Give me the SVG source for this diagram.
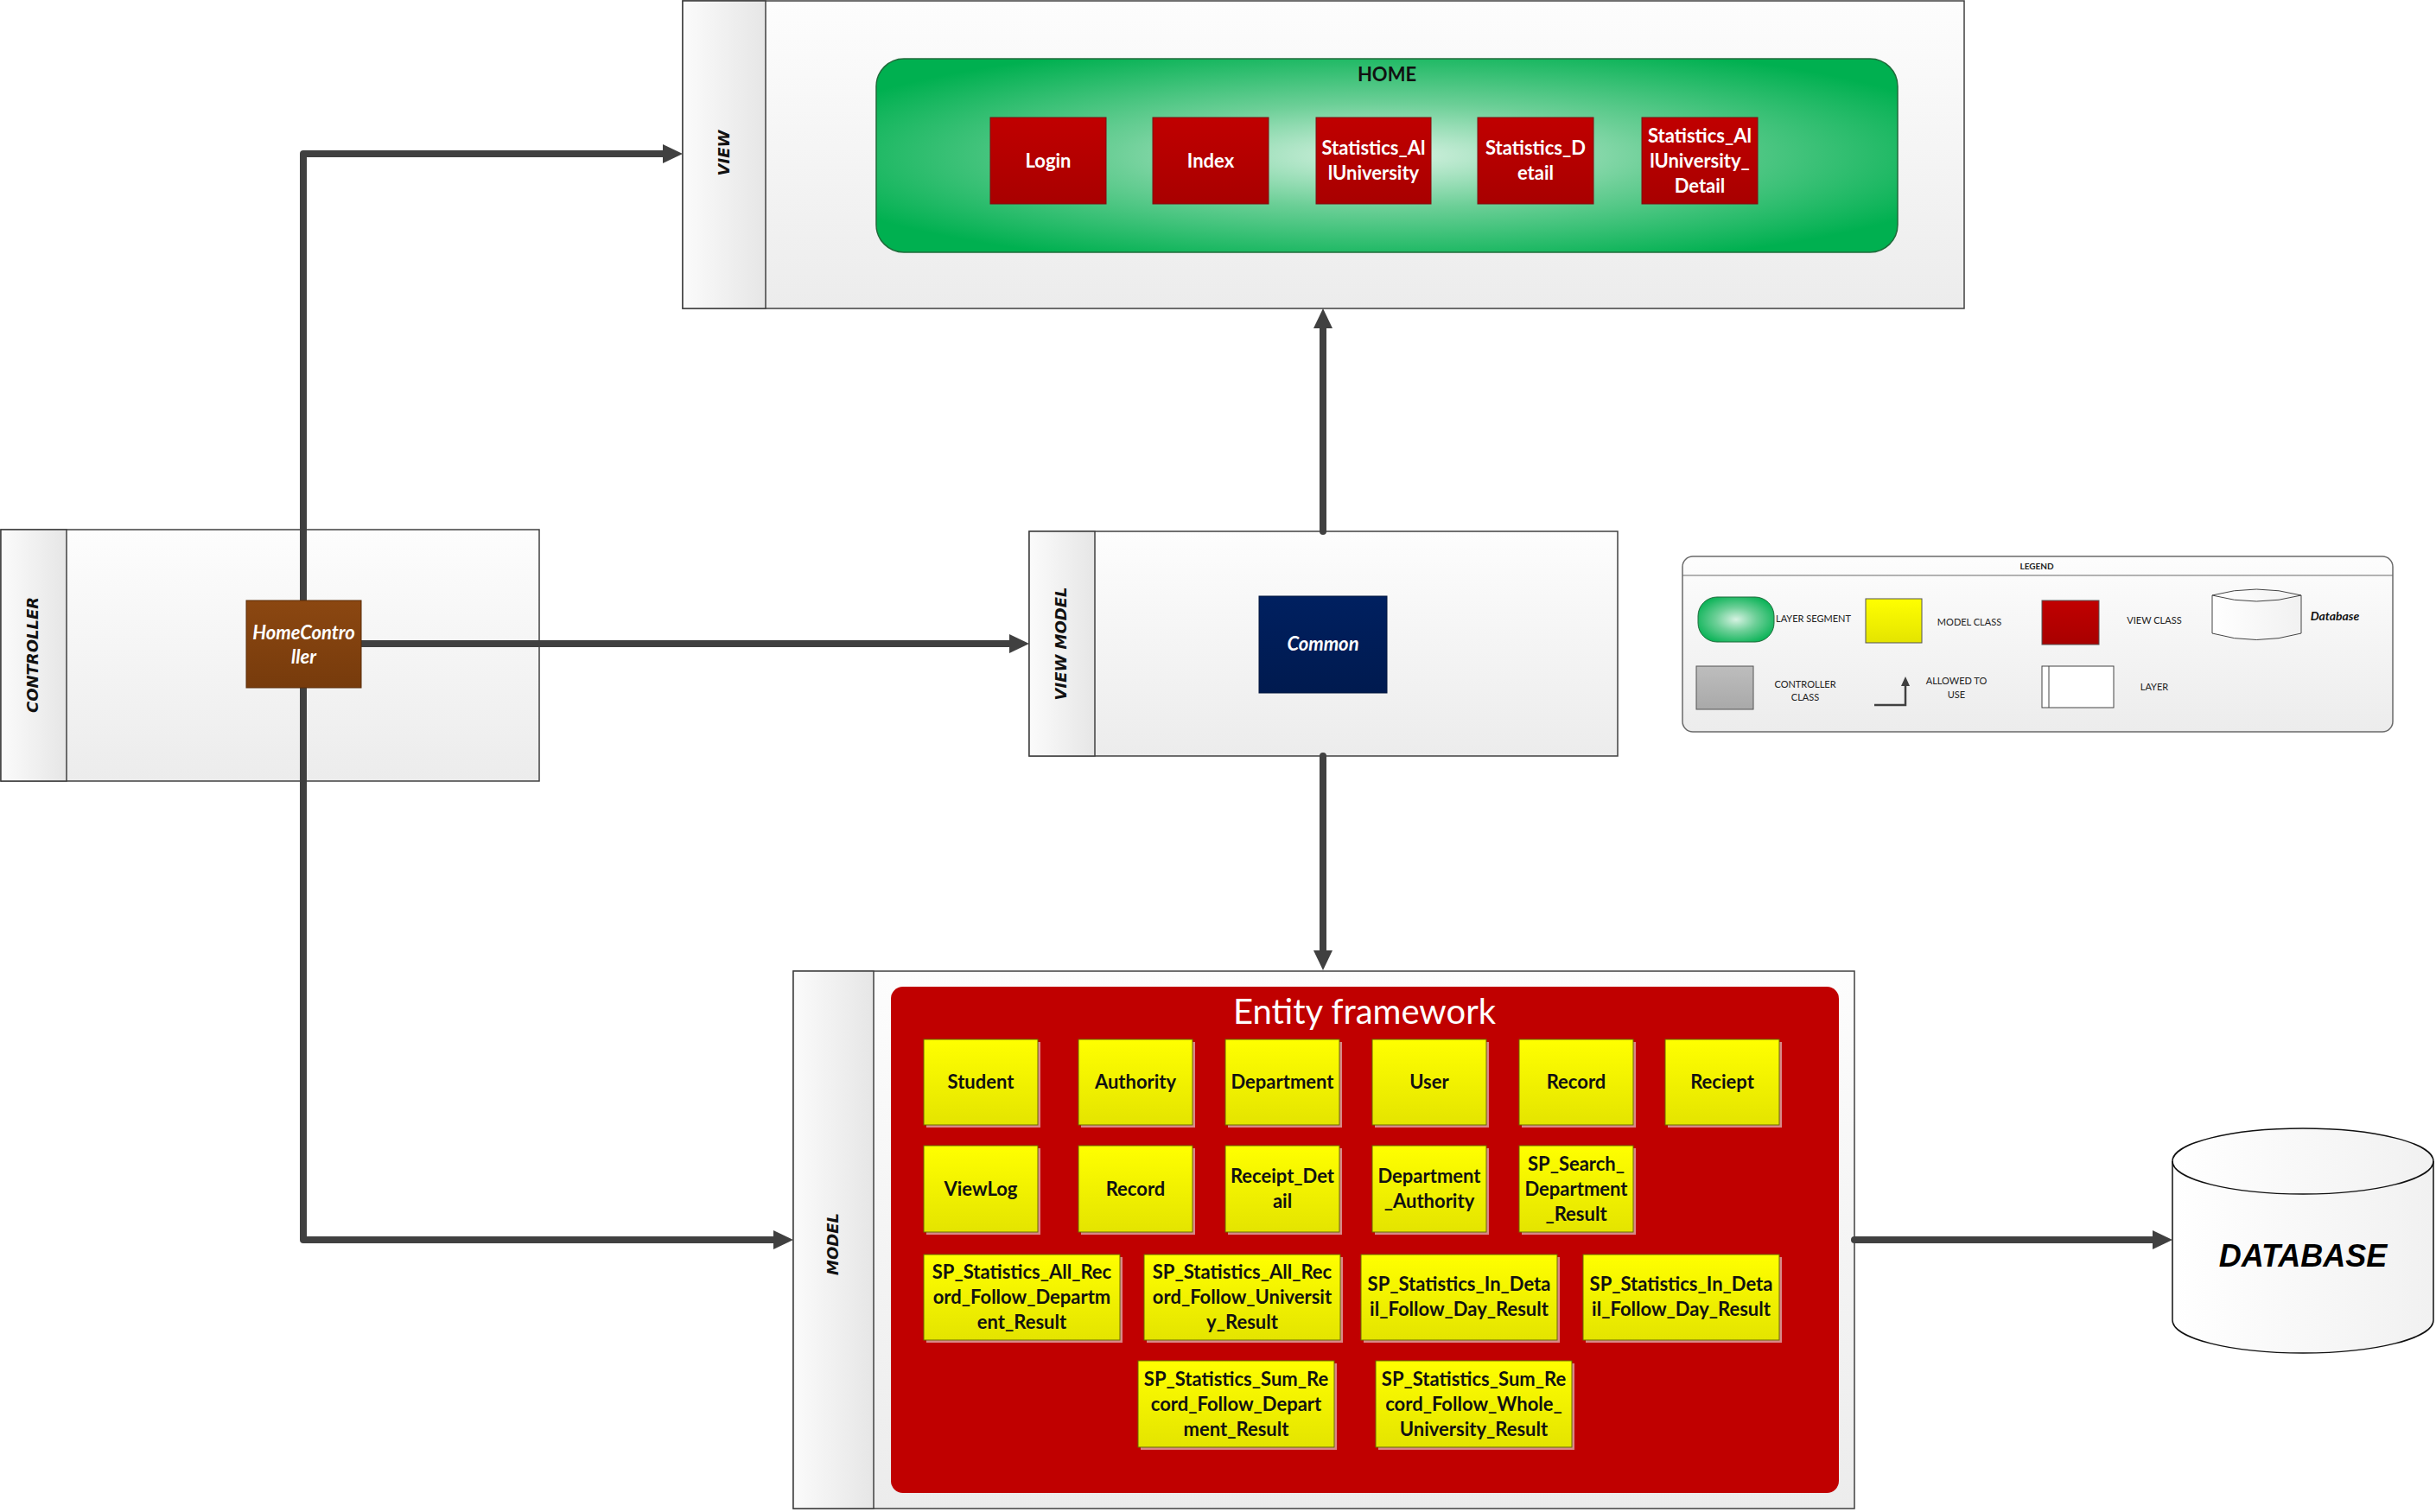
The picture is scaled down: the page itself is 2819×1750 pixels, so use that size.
<svg xmlns="http://www.w3.org/2000/svg" width="2819" height="1750" viewBox="0 0 2819 1750">
  <style>
    .layer { stroke: #404040; stroke-width: 1.5; fill: url(#layerFill); }
    .strip { stroke: #404040; stroke-width: 1.5; fill: url(#stripFill); }
    .layerTitle { font-family: "DejaVu Sans", sans-serif; font-weight: bold; font-style: italic; font-size: 18px; fill: #111; text-anchor: middle; }
    .vbox { fill: url(#redFill); stroke: #7a1010; stroke-width: 1; }
    .vtxt { font-family: Lato, "Liberation Sans", sans-serif; font-weight: bold; font-size: 22px; fill: #fff; text-anchor: middle; }
    .mbox { fill: url(#yellowFill); stroke: #6b6b00; stroke-width: 1; }
    .mshadow { fill: #d98888; }
    .mtxt { font-family: Lato, "Liberation Sans", sans-serif; font-weight: bold; font-size: 22px; fill: #111; text-anchor: middle; }
    .conn { fill: none; stroke: #404040; stroke-width: 8; stroke-linecap: round; stroke-linejoin: round; }
    .lg { font-family: Lato, "Liberation Sans", sans-serif; font-size: 11px; fill: #222; text-anchor: middle; }
    .lgStart { font-family: Lato, "Liberation Sans", sans-serif; font-size: 11px; fill: #222; text-anchor: start; }
  </style>
  <defs>
    <linearGradient id="layerFill" x1="0" y1="0" x2="0" y2="1">
      <stop offset="0" stop-color="#fdfdfd"/>
      <stop offset="1" stop-color="#ececec"/>
    </linearGradient>
    <linearGradient id="stripFill" x1="0" y1="0" x2="1" y2="0">
      <stop offset="0" stop-color="#fbfbfb"/>
      <stop offset="1" stop-color="#e6e6e6"/>
    </linearGradient>
    <radialGradient id="greenFill" cx="0.5" cy="0.5" r="0.6">
      <stop offset="0" stop-color="#d6f2e2"/>
      <stop offset="0.45" stop-color="#6ccf97"/>
      <stop offset="1" stop-color="#00b050"/>
    </radialGradient>
    <linearGradient id="redFill" x1="0" y1="0" x2="0" y2="1">
      <stop offset="0" stop-color="#c00000"/>
      <stop offset="1" stop-color="#a80000"/>
    </linearGradient>
    <linearGradient id="yellowFill" x1="0" y1="0" x2="0" y2="1">
      <stop offset="0" stop-color="#ffff00"/>
      <stop offset="1" stop-color="#e4e400"/>
    </linearGradient>
    <linearGradient id="brownFill" x1="0" y1="0" x2="0" y2="1">
      <stop offset="0" stop-color="#8b4711"/>
      <stop offset="1" stop-color="#773b0c"/>
    </linearGradient>
    <linearGradient id="navyFill" x1="0" y1="0" x2="0" y2="1">
      <stop offset="0" stop-color="#002060"/>
      <stop offset="1" stop-color="#001a4f"/>
    </linearGradient>
    <linearGradient id="grayFill" x1="0" y1="0" x2="0" y2="1">
      <stop offset="0" stop-color="#bdbdbd"/>
      <stop offset="1" stop-color="#a9a9a9"/>
    </linearGradient>
    <linearGradient id="cylFill" x1="0" y1="0" x2="1" y2="0">
      <stop offset="0" stop-color="#ffffff"/>
      <stop offset="1" stop-color="#f1f1f1"/>
    </linearGradient>
    <marker id="head" markerUnits="userSpaceOnUse" viewBox="0 0 24 24" markerWidth="24" markerHeight="24" refX="1" refY="12" orient="auto">
      <path d="M0,1 L23,12 L0,23 Z" fill="#404040"/>
    </marker>
    <marker id="headSmall" markerUnits="userSpaceOnUse" viewBox="0 0 12 12" markerWidth="12" markerHeight="12" refX="1" refY="6" orient="auto">
      <path d="M0,1 L11,6 L0,11 Z" fill="#404040"/>
    </marker>
  </defs>

  <!-- VIEW layer -->
  <g id="layer-view">
    <rect class="layer" x="790" y="1" width="1483" height="356"/>
    <rect class="strip" x="790" y="1" width="96" height="356"/>
    <text class="layerTitle" transform="translate(844,177) rotate(-90)">VIEW</text>
    <g id="home-segment">
      <rect x="1014" y="68" width="1182" height="224" rx="32" ry="32" fill="url(#greenFill)" stroke="#1f6b3a" stroke-width="1.5"/>
      <text x="1605" y="94" font-family="Lato, 'Liberation Sans', sans-serif" font-weight="bold" font-size="22" fill="#111" text-anchor="middle">HOME</text>
    </g>
    <g id="view-login">
      <rect class="vbox" x="1146" y="136" width="134" height="100"/>
      <text class="vtxt" x="1213" y="194">Login</text>
    </g>
    <g id="view-index">
      <rect class="vbox" x="1334" y="136" width="134" height="100"/>
      <text class="vtxt" x="1401" y="194">Index</text>
    </g>
    <g id="view-statistics-alluniversity">
      <rect class="vbox" x="1523" y="136" width="133" height="100"/>
      <text class="vtxt" x="1589.5" y="179">Statistics_Al</text>
      <text class="vtxt" x="1589.5" y="208">lUniversity</text>
    </g>
    <g id="view-statistics-detail">
      <rect class="vbox" x="1710" y="136" width="134" height="100"/>
      <text class="vtxt" x="1777" y="179">Statistics_D</text>
      <text class="vtxt" x="1777" y="208">etail</text>
    </g>
    <g id="view-statistics-alluniversity-detail">
      <rect class="vbox" x="1900" y="136" width="134" height="100"/>
      <text class="vtxt" x="1967" y="165">Statistics_Al</text>
      <text class="vtxt" x="1967" y="194">lUniversity_</text>
      <text class="vtxt" x="1967" y="223">Detail</text>
    </g>
  </g>

  <!-- CONTROLLER layer -->
  <g id="layer-controller">
    <rect class="layer" x="1" y="613" width="623" height="291"/>
    <rect class="strip" x="1" y="613" width="76" height="291"/>
    <text class="layerTitle" transform="translate(44,758) rotate(-90)">CONTROLLER</text>
  </g>

  <!-- VIEW MODEL layer -->
  <g id="layer-viewmodel">
    <rect class="layer" x="1191" y="615" width="681" height="260"/>
    <rect class="strip" x="1191" y="615" width="76" height="260"/>
    <text class="layerTitle" transform="translate(1234,745) rotate(-90)">VIEW MODEL</text>
  </g>

  <!-- MODEL layer -->
  <g id="layer-model">
    <rect class="layer" x="918" y="1124" width="1228" height="622"/>
    <rect class="strip" x="918" y="1124" width="93" height="622"/>
    <text class="layerTitle" transform="translate(970,1440) rotate(-90)">MODEL</text>
    <g id="entity-framework">
      <rect x="1031" y="1142" width="1097" height="586" rx="14" ry="14" fill="#c00000"/>
      <text x="1579" y="1185" font-family="Lato, 'Liberation Sans', sans-serif" font-size="40" fill="#fff" text-anchor="middle">Entity framework</text>
    </g>
  </g>

  <!-- Connectors -->
  <g id="connectors">
    <path class="conn" d="M351,695 V178 H768" marker-end="url(#head)"/>
    <path class="conn" d="M418,745 H1169" marker-end="url(#head)"/>
    <path class="conn" d="M351,796 V1435 H896" marker-end="url(#head)"/>
    <path class="conn" d="M1531,615 V379" marker-end="url(#head)"/>
    <path class="conn" d="M1531,875 V1101" marker-end="url(#head)"/>
    <path class="conn" d="M2146,1435 H2492" marker-end="url(#head)"/>
  </g>

  <!-- Controller class -->
  <g id="home-controller">
    <rect x="285" y="695" width="133" height="101" fill="url(#brownFill)" stroke="#5a2d08" stroke-width="1"/>
    <text x="351.5" y="740" font-family="Lato, 'Liberation Sans', sans-serif" font-weight="bold" font-style="italic" font-size="22" fill="#fff" text-anchor="middle">HomeContro</text>
    <text x="351.5" y="768" font-family="Lato, 'Liberation Sans', sans-serif" font-weight="bold" font-style="italic" font-size="22" fill="#fff" text-anchor="middle">ller</text>
  </g>

  <!-- View model class -->
  <g id="common">
    <rect x="1457" y="690" width="148" height="112" fill="url(#navyFill)" stroke="#00153d" stroke-width="1"/>
    <text x="1531" y="753" font-family="Lato, 'Liberation Sans', sans-serif" font-weight="bold" font-style="italic" font-size="22" fill="#fff" text-anchor="middle">Common</text>
  </g>

  <!-- Model classes: row 1 -->
  <g id="m-student"><rect class="mshadow" x="1072" y="1206" width="132" height="99"/><rect class="mbox" x="1069" y="1203" width="132" height="99"/><text class="mtxt" x="1135" y="1260">Student</text></g>
  <g id="m-authority"><rect class="mshadow" x="1251" y="1206" width="132" height="99"/><rect class="mbox" x="1248" y="1203" width="132" height="99"/><text class="mtxt" x="1314" y="1260">Authority</text></g>
  <g id="m-department"><rect class="mshadow" x="1421" y="1206" width="132" height="99"/><rect class="mbox" x="1418" y="1203" width="132" height="99"/><text class="mtxt" x="1484" y="1260">Department</text></g>
  <g id="m-user"><rect class="mshadow" x="1591" y="1206" width="132" height="99"/><rect class="mbox" x="1588" y="1203" width="132" height="99"/><text class="mtxt" x="1654" y="1260">User</text></g>
  <g id="m-record"><rect class="mshadow" x="1761" y="1206" width="132" height="99"/><rect class="mbox" x="1758" y="1203" width="132" height="99"/><text class="mtxt" x="1824" y="1260">Record</text></g>
  <g id="m-reciept"><rect class="mshadow" x="1930" y="1206" width="132" height="99"/><rect class="mbox" x="1927" y="1203" width="132" height="99"/><text class="mtxt" x="1993" y="1260">Reciept</text></g>

  <!-- Model classes: row 2 -->
  <g id="m-viewlog"><rect class="mshadow" x="1072" y="1329" width="132" height="100"/><rect class="mbox" x="1069" y="1326" width="132" height="100"/><text class="mtxt" x="1135" y="1384">ViewLog</text></g>
  <g id="m-record-2"><rect class="mshadow" x="1251" y="1329" width="132" height="100"/><rect class="mbox" x="1248" y="1326" width="132" height="100"/><text class="mtxt" x="1314" y="1384">Record</text></g>
  <g id="m-receipt-detail"><rect class="mshadow" x="1421" y="1329" width="132" height="100"/><rect class="mbox" x="1418" y="1326" width="132" height="100"/><text class="mtxt" x="1484" y="1369">Receipt_Det</text><text class="mtxt" x="1484" y="1398">ail</text></g>
  <g id="m-department-authority"><rect class="mshadow" x="1591" y="1329" width="132" height="100"/><rect class="mbox" x="1588" y="1326" width="132" height="100"/><text class="mtxt" x="1654" y="1369">Department</text><text class="mtxt" x="1654" y="1398">_Authority</text></g>
  <g id="m-sp-search-department"><rect class="mshadow" x="1761" y="1329" width="132" height="100"/><rect class="mbox" x="1758" y="1326" width="132" height="100"/><text class="mtxt" x="1824" y="1355">SP_Search_</text><text class="mtxt" x="1824" y="1384">Department</text><text class="mtxt" x="1824" y="1413">_Result</text></g>

  <!-- Model classes: row 3 -->
  <g id="m-sp-all-record-department"><rect class="mshadow" x="1072" y="1455" width="227" height="99"/><rect class="mbox" x="1069" y="1452" width="227" height="99"/><text class="mtxt" x="1182.5" y="1480">SP_Statistics_All_Rec</text><text class="mtxt" x="1182.5" y="1509">ord_Follow_Departm</text><text class="mtxt" x="1182.5" y="1538">ent_Result</text></g>
  <g id="m-sp-all-record-university"><rect class="mshadow" x="1327" y="1455" width="227" height="99"/><rect class="mbox" x="1324" y="1452" width="227" height="99"/><text class="mtxt" x="1437.5" y="1480">SP_Statistics_All_Rec</text><text class="mtxt" x="1437.5" y="1509">ord_Follow_Universit</text><text class="mtxt" x="1437.5" y="1538">y_Result</text></g>
  <g id="m-sp-in-detail-day-1"><rect class="mshadow" x="1578" y="1455" width="227" height="99"/><rect class="mbox" x="1575" y="1452" width="227" height="99"/><text class="mtxt" x="1688.5" y="1494">SP_Statistics_In_Deta</text><text class="mtxt" x="1688.5" y="1523">il_Follow_Day_Result</text></g>
  <g id="m-sp-in-detail-day-2"><rect class="mshadow" x="1835" y="1455" width="227" height="99"/><rect class="mbox" x="1832" y="1452" width="227" height="99"/><text class="mtxt" x="1945.5" y="1494">SP_Statistics_In_Deta</text><text class="mtxt" x="1945.5" y="1523">il_Follow_Day_Result</text></g>

  <!-- Model classes: row 4 -->
  <g id="m-sp-sum-record-department"><rect class="mshadow" x="1320" y="1578" width="227" height="100"/><rect class="mbox" x="1317" y="1575" width="227" height="100"/><text class="mtxt" x="1430.5" y="1604">SP_Statistics_Sum_Re</text><text class="mtxt" x="1430.5" y="1633">cord_Follow_Depart</text><text class="mtxt" x="1430.5" y="1662">ment_Result</text></g>
  <g id="m-sp-sum-record-university"><rect class="mshadow" x="1595" y="1578" width="227" height="100"/><rect class="mbox" x="1592" y="1575" width="227" height="100"/><text class="mtxt" x="1705.5" y="1604">SP_Statistics_Sum_Re</text><text class="mtxt" x="1705.5" y="1633">cord_Follow_Whole_</text><text class="mtxt" x="1705.5" y="1662">University_Result</text></g>

  <!-- Database -->
  <g id="database">
    <path d="M2514,1344 A151,38 0 0 1 2816,1344 V1528 A151,38 0 0 1 2514,1528 Z" fill="url(#cylFill)" stroke="#111" stroke-width="1.5"/>
    <path d="M2514,1344 A151,38 0 0 0 2816,1344" fill="none" stroke="#111" stroke-width="1.5"/>
    <text x="2665" y="1466" font-family="'Liberation Sans', sans-serif" font-weight="bold" font-style="italic" font-size="36" fill="#000" text-anchor="middle">DATABASE</text>
  </g>

  <!-- Legend -->
  <g id="legend">
    <rect x="1947" y="644" width="822" height="203" rx="12" ry="12" fill="url(#layerFill)" stroke="#6a6a6a" stroke-width="1.5"/>
    <line x1="1947" y1="666" x2="2769" y2="666" stroke="#6a6a6a" stroke-width="1.2"/>
    <text x="2357" y="659" font-family="Lato, 'Liberation Sans', sans-serif" font-weight="bold" font-size="10" fill="#222" text-anchor="middle">LEGEND</text>

    <rect x="1965" y="691" width="88" height="52" rx="22" ry="22" fill="url(#greenFill)" stroke="#1f6b3a" stroke-width="1"/>
    <text class="lgStart" x="2055" y="720">LAYER SEGMENT</text>

    <rect x="2159" y="693" width="65" height="51" fill="url(#yellowFill)" stroke="#555" stroke-width="1"/>
    <text class="lg" x="2279" y="724">MODEL CLASS</text>

    <rect x="2363" y="695" width="66" height="51" fill="url(#redFill)" stroke="#555" stroke-width="1"/>
    <text class="lg" x="2493" y="722">VIEW CLASS</text>

    <path d="M2560,689 Q2611,675 2663,689 V733 Q2611,748 2560,733 Z" fill="url(#cylFill)" stroke="#444" stroke-width="1"/>
    <path d="M2560,689 Q2611,703 2663,689" fill="none" stroke="#444" stroke-width="1"/>
    <text x="2702" y="718" font-family="Lato, 'Liberation Sans', sans-serif" font-weight="bold" font-style="italic" font-size="14" fill="#111" text-anchor="middle">Database</text>

    <rect x="1963" y="771" width="66" height="50" fill="url(#grayFill)" stroke="#555" stroke-width="1"/>
    <text class="lg" x="2089" y="796">CONTROLLER</text>
    <text class="lg" x="2089" y="811">CLASS</text>

    <path d="M2169,816 H2205 V793" fill="none" stroke="#404040" stroke-width="2.5" marker-end="url(#headSmall)"/>
    <text class="lg" x="2264" y="792">ALLOWED TO</text>
    <text class="lg" x="2264" y="808">USE</text>

    <rect x="2363" y="771" width="83" height="48" fill="#fff" stroke="#444" stroke-width="1"/>
    <line x1="2371" y1="771" x2="2371" y2="819" stroke="#444" stroke-width="1"/>
    <text class="lg" x="2493" y="799">LAYER</text>
  </g>
</svg>
